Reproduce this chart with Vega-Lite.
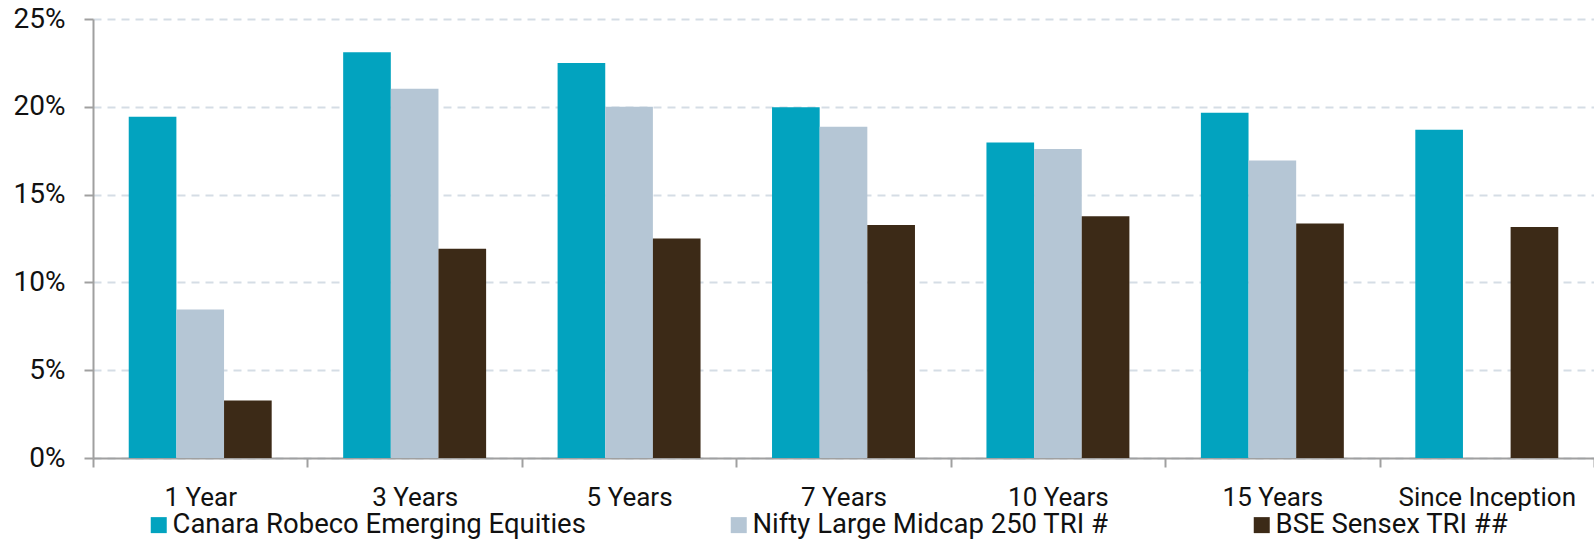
{
  "$schema": "https://vega.github.io/schema/vega-lite/v6.json",
  "width": 1501,
  "height": 439,
  "autosize": {"type": "none"},
  "padding": {"left": 93, "top": 19, "right": 0, "bottom": 82},
  "config": {
    "view": {"stroke": null},
    "font": "Roboto"
  },
  "data": {
    "values": [
      {"period": "1 Year", "series": "Canara Robeco Emerging Equities", "value": 0.1943},
      {"period": "1 Year", "series": "Nifty Large Midcap 250 TRI #", "value": 0.0845},
      {"period": "1 Year", "series": "BSE Sensex TRI ##", "value": 0.0328},
      {"period": "3 Years", "series": "Canara Robeco Emerging Equities", "value": 0.2310},
      {"period": "3 Years", "series": "Nifty Large Midcap 250 TRI #", "value": 0.2103},
      {"period": "3 Years", "series": "BSE Sensex TRI ##", "value": 0.1192},
      {"period": "5 Years", "series": "Canara Robeco Emerging Equities", "value": 0.2250},
      {"period": "5 Years", "series": "Nifty Large Midcap 250 TRI #", "value": 0.2000},
      {"period": "5 Years", "series": "BSE Sensex TRI ##", "value": 0.1250},
      {"period": "7 Years", "series": "Canara Robeco Emerging Equities", "value": 0.1997},
      {"period": "7 Years", "series": "Nifty Large Midcap 250 TRI #", "value": 0.1886},
      {"period": "7 Years", "series": "BSE Sensex TRI ##", "value": 0.1327},
      {"period": "10 Years", "series": "Canara Robeco Emerging Equities", "value": 0.1797},
      {"period": "10 Years", "series": "Nifty Large Midcap 250 TRI #", "value": 0.1760},
      {"period": "10 Years", "series": "BSE Sensex TRI ##", "value": 0.1377},
      {"period": "15 Years", "series": "Canara Robeco Emerging Equities", "value": 0.1966},
      {"period": "15 Years", "series": "Nifty Large Midcap 250 TRI #", "value": 0.1694},
      {"period": "15 Years", "series": "BSE Sensex TRI ##", "value": 0.1336},
      {"period": "Since Inception", "series": "Canara Robeco Emerging Equities", "value": 0.1869},
      {"period": "Since Inception", "series": "BSE Sensex TRI ##", "value": 0.1315}
    ]
  },
  "mark": {"type": "bar"},
  "encoding": {
    "x": {
      "field": "period",
      "type": "nominal",
      "sort": ["1 Year", "3 Years", "5 Years", "7 Years", "10 Years", "15 Years", "Since Inception"],
      "scale": {"paddingInner": 0, "paddingOuter": 0},
      "axis": {
        "title": null,
        "labelAngle": 0,
        "labelFontSize": 26,
        "labelColor": "#111111",
        "labelPadding": 17,
        "tickBand": "extent",
        "tickSize": 9,
        "tickColor": "#a0a0a0",
        "tickWidth": 2,
        "domainColor": "#a0a0a0",
        "domainWidth": 2
      }
    },
    "xOffset": {
      "field": "series",
      "sort": ["Canara Robeco Emerging Equities", "Nifty Large Midcap 250 TRI #", "BSE Sensex TRI ##"],
      "scale": {"paddingInner": 0, "paddingOuter": 0.75}
    },
    "y": {
      "field": "value",
      "type": "quantitative",
      "scale": {"domain": [0, 0.25], "nice": false},
      "axis": {
        "title": null,
        "values": [0, 0.05, 0.1, 0.15, 0.2, 0.25],
        "format": ".0%",
        "labelFontSize": 28,
        "labelColor": "#111111",
        "labelPadding": 19,
        "tickSize": 9,
        "tickColor": "#a0a0a0",
        "tickWidth": 2,
        "domainColor": "#a0a0a0",
        "domainWidth": 2,
        "grid": true,
        "gridColor": "#d5dde5",
        "gridWidth": 2,
        "gridDash": [8, 6]
      }
    },
    "color": {
      "field": "series",
      "type": "nominal",
      "sort": ["Canara Robeco Emerging Equities", "Nifty Large Midcap 250 TRI #", "BSE Sensex TRI ##"],
      "scale": {
        "domain": ["Canara Robeco Emerging Equities", "Nifty Large Midcap 250 TRI #", "BSE Sensex TRI ##"],
        "range": ["#02a3bf", "#b5c6d5", "#3c2a17"]
      },
      "legend": {
        "title": null,
        "orient": "none",
        "legendX": 52,
        "legendY": 492,
        "direction": "horizontal",
        "columnPadding": 139,
        "symbolType": "square",
        "symbolSize": 256,
        "symbolStrokeWidth": 0,
        "labelFontSize": 27.5,
        "labelColor": "#111111",
        "labelOffset": 0,
        "labelLimit": 600
      }
    }
  }
}
